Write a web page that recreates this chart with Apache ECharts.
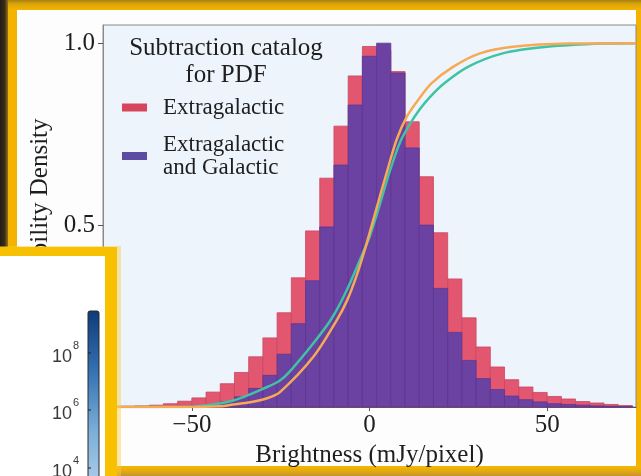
<!DOCTYPE html>
<html>
<head>
<meta charset="utf-8">
<script src="https://cdn.jsdelivr.net/npm/echarts@6/dist/echarts.min.js"></script>
<style>
html,body{margin:0;padding:0;background:#f3b300;}
#chart{width:641px;height:476px;}
</style>
</head>
<body>
<div id="chart"></div>
<script>
// ---- data ----
const binCenters = [-72,-68,-64,-60,-56,-52,-48,-44,-40,-36,-32,-28,-24,-20,-16,-12,-8,-4,0,4,8,12,16,20,24,28,32,36,40,44,48,52,56,60,64,68,72];
const binWidth = 4;
const extragalactic = [0.001,0.002,0.003,0.005,0.009,0.016,0.025,0.041,0.064,0.095,0.138,0.190,0.259,0.355,0.484,0.629,0.772,0.910,0.991,0.980,0.922,0.784,0.633,0.479,0.352,0.245,0.165,0.110,0.075,0.055,0.040,0.029,0.022,0.015,0.011,0.007,0.004];
const extraAndGalactic = [0,0,0.001,0.001,0.001,0.002,0.004,0.007,0.014,0.028,0.051,0.087,0.145,0.229,0.347,0.495,0.665,0.830,0.964,1.000,0.918,0.712,0.500,0.326,0.205,0.128,0.078,0.048,0.030,0.020,0.014,0.009,0.007,0.005,0.003,0.002,0.001];
const cdfTealX = [-75,-56,-47.7,-38.3,-28.8,-25.2,-22.4,-15.8,-10.6,-6.4,-2.7,0.1,2.95,5.8,8.6,11.4,14.2,17.0,20.8,27.7,37.5,49.9,65.7,75];
const cdfTealY = [0,0,0.003,0.018,0.055,0.073,0.098,0.175,0.244,0.321,0.404,0.470,0.558,0.651,0.728,0.778,0.819,0.852,0.888,0.935,0.972,0.990,0.999,1.0];
const cdfOrangeX = [-75,-52,-42,-38.4,-33.6,-28.8,-25.2,-15.8,-9.2,-6.4,-3.6,-0.8,2.0,4.8,7.6,10.5,13.7,17.5,23.5,31.1,40.4,56.4,75];
const cdfOrangeY = [0,0,0.002,0.007,0.013,0.024,0.041,0.138,0.239,0.291,0.362,0.450,0.547,0.643,0.734,0.798,0.844,0.890,0.935,0.972,0.990,0.999,1.0];
const xTickValues = [-50,0,50];
const yTickValues = [0,0.5,1.0];
const colorbarExponents = ['8','6','4'];
const seriesNames = ['Extragalactic','Extragalactic and Galactic'];
const legendTitle = 'Subtraction catalog\nfor PDF';
const xName = 'Brightness (mJy/pixel)';
const yName = 'Probability Density';

// ---- build ----
const serif = '"Liberation Serif", "Times New Roman", serif';
const zipPts = (xs, ys) => xs.map((x, i) => [x, ys[i]]);
const histData = vals => binCenters.map((c, i) => [c, vals[i]]);

function barRenderer(fill, stroke) {
  return function (params, api) {
    const c = api.value(0), v = api.value(1);
    const p0 = api.coord([c - binWidth / 2, v]);
    const p1 = api.coord([c + binWidth / 2, 0]);
    return {
      type: 'rect',
      shape: { x: p0[0], y: p0[1], width: p1[0] - p0[0], height: p1[1] - p0[1] },
      style: { fill: fill, stroke: stroke, lineWidth: 0.8 }
    };
  };
}

const chart = echarts.init(document.getElementById('chart'), null, { renderer: 'canvas' });

const cbTickY = [353, 410, 468];
const cbGraphics = [];
colorbarExponents.forEach((e, i) => {
  cbGraphics.push({ type: 'text', z: 120, style: { text: '10', x: 52, y: cbTickY[i] + 4, font: '18px "Liberation Sans", Arial, sans-serif', fill: '#3a3a3a', textVerticalAlign: 'middle' } });
  cbGraphics.push({ type: 'text', z: 120, style: { text: e, x: 73, y: cbTickY[i] - 7, font: '11px "Liberation Sans", Arial, sans-serif', fill: '#3a3a3a', textVerticalAlign: 'middle' } });
  cbGraphics.push({ type: 'line', z: 121, shape: { x1: 88, y1: cbTickY[i], x2: 91, y2: cbTickY[i] }, style: { stroke: '#222', lineWidth: 1 } });
});

const option = {
  backgroundColor: '#f3b300',
  animation: false,
  grid: { left: 103, right: 5, top: 25, height: 382, show: true, backgroundColor: '#edf4fb', borderColor: '#8a8a8a', borderWidth: 1 },
  xAxis: {
    type: 'value', min: -75, max: 75,
    name: xName, nameLocation: 'middle', nameGap: 31,
    nameTextStyle: { fontFamily: serif, fontSize: 25, color: '#1e1e1e' },
    axisLine: { show: true, onZero: false, lineStyle: { color: '#555', width: 1 } },
    axisTick: { show: true, length: 4, lineStyle: { color: '#555' }, customValues: xTickValues },
    axisLabel: { fontFamily: serif, fontSize: 25, color: '#1e1e1e', margin: 6, customValues: xTickValues,
      formatter: v => String(v).replace('-', '\u2212') },
    splitLine: { show: false }
  },
  yAxis: {
    type: 'value', min: 0, max: 1.05,
    name: yName, nameLocation: 'middle', nameGap: 47,
    nameTextStyle: { fontFamily: serif, fontSize: 25, color: '#1e1e1e' },
    axisLine: { show: true, onZero: false, lineStyle: { color: '#8a8a8a', width: 1 } },
    axisTick: { show: true, length: 5, lineStyle: { color: '#555' }, customValues: yTickValues },
    axisLabel: { fontFamily: serif, fontSize: 25, color: '#1e1e1e', margin: 8, customValues: yTickValues,
      formatter: v => v.toFixed(1) },
    splitLine: { show: false }
  },
  legend: {
    orient: 'vertical', left: 122, top: 96, padding: 0, itemGap: 14,
    itemWidth: 25, itemHeight: 8, selectedMode: false,
    textStyle: { fontFamily: serif, fontSize: 23, color: '#1e1e1e', lineHeight: 23, padding: [0, 0, 0, 11] },
    formatter: n => n === seriesNames[1] ? 'Extragalactic\nand Galactic' : n,
    data: [
      { name: seriesNames[0], icon: 'rect', itemStyle: { color: '#d8465e' } },
      { name: seriesNames[1], icon: 'rect', itemStyle: { color: '#5d4aa3' } }
    ]
  },
  series: [
    { name: seriesNames[0], type: 'custom', renderItem: barRenderer('#e3566f', '#c94860'), data: histData(extragalactic), encode: { x: 0, y: 1 }, z: 2 },
    { name: seriesNames[1], type: 'custom', renderItem: barRenderer('#6b41a1', '#5c3793'), data: histData(extraAndGalactic), encode: { x: 0, y: 1 }, z: 3 },
    { name: 'cdf teal', type: 'line', data: zipPts(cdfTealX, cdfTealY), showSymbol: false, smooth: 0.3, lineStyle: { color: '#3fc2a6', width: 2.5 }, z: 4 },
    { name: 'cdf orange', type: 'line', data: zipPts(cdfOrangeX, cdfOrangeY), showSymbol: false, smooth: 0.3, lineStyle: { color: '#f6aa55', width: 2.5 }, z: 5 }
  ],
  graphic: { elements: [
    { type: 'rect', z: -10, shape: { x: 0, y: 0, width: 641, height: 11 }, style: { fill: new echarts.graphic.LinearGradient(0, 0, 0, 1, [{ offset: 0, color: '#a47f12' }, { offset: 0.35, color: '#dba408' }, { offset: 1, color: '#f4b800' }]) } },
    { type: 'rect', z: -10, shape: { x: 0, y: 0, width: 8, height: 250 }, style: { fill: new echarts.graphic.LinearGradient(0, 0, 1, 0, [{ offset: 0, color: '#221c15' }, { offset: 0.6, color: '#3a2e18' }, { offset: 1, color: '#9a7412' }]) } },
    { type: 'rect', z: -10, shape: { x: 0, y: 466, width: 641, height: 10 }, style: { fill: new echarts.graphic.LinearGradient(0, 0, 0, 1, [{ offset: 0, color: '#f4b800' }, { offset: 0.5, color: '#e6aa10' }, { offset: 1, color: '#c0952a' }]) } },
    { type: 'rect', z: -5, shape: { x: 17, y: 10, width: 619, height: 456 }, style: { fill: '#fdfdfd' } },
    { type: 'rect', z: 100, shape: { x: 0, y: 246, width: 121, height: 230 }, style: { fill: 'rgba(250,205,60,0.45)' } },
    { type: 'rect', z: 101, shape: { x: 0, y: 247, width: 117, height: 229 }, style: { fill: '#f7c000' } },
    { type: 'rect', z: 102, shape: { x: 0, y: 256, width: 105, height: 220 }, style: { fill: '#ffffff' } },
    { type: 'rect', z: 110, shape: { x: 88, y: 311, width: 11, height: 170, r: [2, 2, 0, 0] }, style: { stroke: '#2a2a2a', lineWidth: 1, fill: new echarts.graphic.LinearGradient(0, 0, 0, 1, [{ offset: 0, color: '#0f3a78' }, { offset: 0.35, color: '#3271b2' }, { offset: 0.7, color: '#7aaed8' }, { offset: 1, color: '#a9cbe8' }]) } }
  ].concat(cbGraphics).concat([
    { type: 'text', z: 10, style: { text: legendTitle, x: 226, y: 35, textAlign: 'center', font: '25px ' + serif, lineHeight: 27, fill: '#1e1e1e' } }
  ]) }
};
chart.setOption(option);
</script>
</body>
</html>
